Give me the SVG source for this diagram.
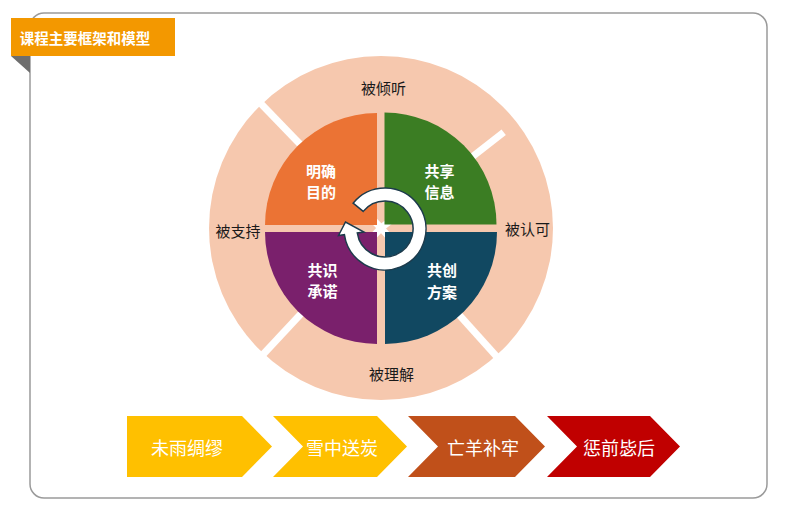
<svg xmlns="http://www.w3.org/2000/svg" width="787" height="514" viewBox="0 0 787 514">
<style>
text{font-family:"Noto Sans CJK SC","Noto Sans",sans-serif;text-anchor:middle;dominant-baseline:central}
.ring{font-size:15px;fill:#1a1a1a}
.quad{font-size:15px;font-weight:bold;fill:#ffffff}
.chev{font-size:18px;fill:#ffffff}
.sep{stroke:#ffffff;stroke-width:7}
</style>
<rect x="30" y="13" width="737" height="485" rx="14" fill="#ffffff" stroke="#9a9a9a" stroke-width="1.5"/>
<g id="title">
<polygon points="11,56 30,56 30,73" fill="#6e6e6e"/>
<rect x="11" y="18" width="164" height="38" fill="#F39800"/>
<text x="85" y="37" style="font-size:14.5px;font-weight:bold;fill:#fff">课程主要框架和模型</text>
</g>
<g id="ring">
<circle cx="381" cy="228" r="172" fill="#F6C8AE"/>
</g>
<g id="separators">
<line class="sep" x1="381" y1="228" x2="503.7" y2="132.3"/>
<line class="sep" x1="381" y1="228" x2="258.6" y2="101.3"/>
<line class="sep" x1="381" y1="228" x2="503.7" y2="364.3"/>
<line class="sep" x1="381" y1="228" x2="259.3" y2="358.5"/>
</g>
<g id="n-listen"><text class="ring" x="383.5" y="87">被倾听</text></g>
<g id="n-recognize"><text class="ring" x="527.5" y="228">被认可</text></g>
<g id="n-understand"><text class="ring" x="391.5" y="373">被理解</text></g>
<g id="n-support"><text class="ring" x="238" y="230.5">被支持</text></g>
<g id="q-goal">
<path d="M377,225 L265,225 A112,112 0 0 1 377,113 Z" fill="#EB7334"/>
<text class="quad" x="321" y="170">明确</text>
<text class="quad" x="321" y="191">目的</text>
</g>
<g id="q-share">
<path d="M384.5,224.5 L384.5,112.5 A112,112 0 0 1 496.5,224.5 Z" fill="#3B7D23"/>
<text class="quad" x="439.5" y="170">共享</text>
<text class="quad" x="439.5" y="191">信息</text>
</g>
<g id="q-commit">
<path d="M377,232 L377,344 A112,112 0 0 1 265,232 Z" fill="#7A206C"/>
<text class="quad" x="322.5" y="269">共识</text>
<text class="quad" x="322.5" y="290">承诺</text>
</g>
<g id="q-create">
<path d="M385,232 L497,232 A112,112 0 0 1 385,344 Z" fill="#114861"/>
<text class="quad" x="442" y="269">共创</text>
<text class="quad" x="442" y="291">方案</text>
</g>
<g id="cycle-arrow">
<path d="M353.1,203.2 A41,41 0 1 1 344.4,234.7 L338.5,235.5 L345.5,222 L364,232 L357.3,232.9 A28,28 0 1 0 363.2,211.4 Z" fill="#ffffff" stroke="#1d3b4c" stroke-width="1.5" stroke-linejoin="miter"/>
</g>
<g id="c1">
<polygon points="127,416 242,416 272,446.5 242,477 127,477" fill="#FFC000"/>
<text class="chev" x="187" y="446.5">未雨绸缪</text>
</g>
<g id="c2">
<polygon points="273,416 377,416 407,446.5 377,477 273,477 303,446.5" fill="#FFC000"/>
<text class="chev" x="342" y="446.5">雪中送炭</text>
</g>
<g id="c3">
<polygon points="408,416 515,416 545,446.5 515,477 408,477 438,446.5" fill="#C0501A"/>
<text class="chev" x="483" y="446.5">亡羊补牢</text>
</g>
<g id="c4">
<polygon points="547,416 650,416 680,446.5 650,477 547,477 577,446.5" fill="#C00000"/>
<text class="chev" x="619" y="446.5">惩前毖后</text>
</g>
</svg>
